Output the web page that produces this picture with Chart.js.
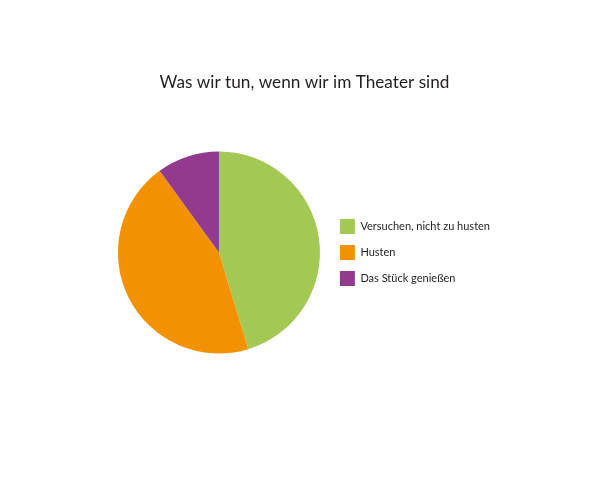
<!DOCTYPE html>
<html>
<head>
<meta charset="utf-8">
<script src="https://cdn.jsdelivr.net/npm/chart.js@4"></script>
<style>
html,body{margin:0;padding:0;background:#fff;}
#wrap{width:600px;height:484px;}
</style>
</head>
<body>
<div id="wrap"><canvas id="c" width="600" height="484"></canvas></div>
<script>
const titleText = 'Was wir tun, wenn wir im Theater sind';
const categories = ['Versuchen, nicht zu husten', 'Husten', 'Das Stück genießen'];
const values = [45.3, 44.7, 10];
const colors = ['#a3c853', '#f39200', '#923a8e'];

new Chart(document.getElementById('c'), {
  type: 'pie',
  data: {
    labels: categories,
    datasets: [{ data: values, backgroundColor: colors, borderWidth: 0 }]
  },
  options: {
    responsive: false,
    animation: false,
    layout: { padding: { left: 109, right: 100, top: 0, bottom: 130.5 } },
    plugins: {
      title: {
        display: true,
        text: titleText,
        color: '#231f20',
        font: { family: 'Lato', size: 17.2, weight: 'normal', lineHeight: 1.2 },
        padding: { top: 72, bottom: 58.86 }
      },
      legend: {
        position: 'right',
        fullSize: false,
        labels: {
          boxWidth: 15, boxHeight: 15, padding: 11,
          color: '#231f20',
          font: { family: 'Lato', size: 11 }
        }
      },
      tooltip: { enabled: false }
    }
  }
});
</script>
</body>
</html>
